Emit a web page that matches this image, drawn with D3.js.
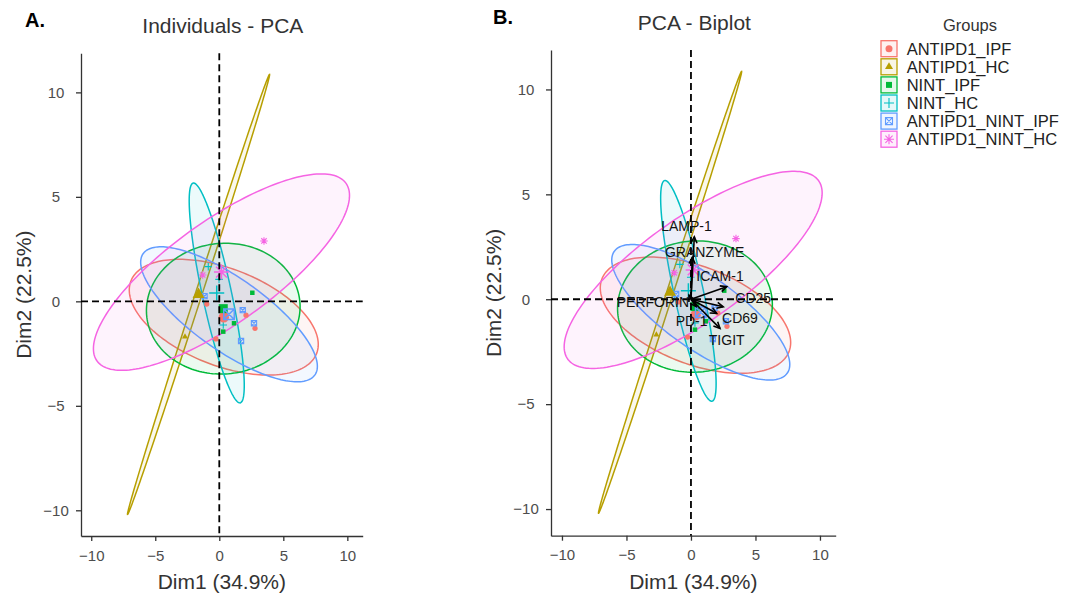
<!DOCTYPE html>
<html>
<head>
<meta charset="utf-8">
<script src="https://cdn.jsdelivr.net/npm/d3@7"></script>
<style>
body { margin: 0; background: #fff; }
text { font-family: "Liberation Sans", Arial, sans-serif; }
</style>
</head>
<body>
<div id="chart"></div>
<script>
var groups = ["ANTIPD1_IPF", "ANTIPD1_HC", "NINT_IPF", "NINT_HC", "ANTIPD1_NINT_IPF", "ANTIPD1_NINT_HC"];
var colors = ["#F8766D", "#B79F00", "#00BA38", "#00BFC4", "#619CFF", "#F564E3"];
var shapes = ["circle", "triangle", "square", "plus", "boxcross", "asterisk"];

// individuals (group index, Dim1, Dim2)
var indGroup = [0, 0, 0, 0, 1, 2, 2, 2, 3, 3, 3, 4, 4, 4, 4, 5, 5];
var indDim1 = [-0.98, 2.09, 2.79, -0.26, -2.68, 2.58, 1.15, 0.31, -0.86, -0.02, 0.31, 1.83, 2.71, 1.70, -1.15, 3.49, -1.30];
var indDim2 = [-0.13, -0.66, -1.29, -1.80, -1.69, 0.41, -1.05, -1.45, 1.66, 1.05, -1.13, -0.42, -1.05, -1.90, 0.25, 2.89, 1.26];

// group means
var meanDim1 = [0.35, -1.62, 0.31, -0.20, 0.76, 0.17];
var meanDim2 = [-0.76, 0.33, -0.35, 0.40, -0.62, 1.40];

// ellipses: half extent on Dim1, half extent on Dim2, correlation
var ellDim1 = [7.38, 5.55, 6.0, 2.15, 6.9, 10.0];
var ellDim2 = [2.77, 10.53, 3.13, 5.26, 3.23, 4.7];
var ellCor = [-0.47, 0.9988, 0.03, -0.84, -0.77, 0.78];

// variables (biplot arrows) and where their labels sit
var variables = ["LAMP-1", "GRANZYME", "ICAM-1", "CD25", "CD69", "TIGIT", "PD-1", "PERFORIN"];
var varDim1 = [0.26, 0.10, 2.77, 2.50, 1.99, 2.25, 0.40, -0.15];
var varDim2 = [2.98, 2.00, 0.60, -0.36, -0.67, -1.39, -0.35, 0.20];
var labDim1 = [-0.35, 1.06, 2.25, 4.83, 3.80, 2.77, 0.05, -2.95];
var labDim2 = [3.49, 2.25, 1.11, 0.04, -0.87, -1.94, -1.02, -0.12];

var xTicks = [-10, -5, 0, 5, 10];
var yTicks = [-10, -5, 0, 5, 10];

var w = 1077, h = 596;
var svg = d3.select("#chart").append("svg")
    .attr("width", w)
    .attr("height", h);

var baseSize = { circle: 3.5, triangle: 4, square: 3, plus: 5, boxcross: 3.5, asterisk: 5 };

function shapeD(shape, s) {
    if (shape == "circle")
        return "M" + (-s) + ",0A" + s + "," + s + " 0 1,1 " + s + ",0A" + s + "," + s + " 0 1,1 " + (-s) + ",0Z";
    if (shape == "triangle")
        return "M0," + (-1.15 * s) + "L" + s + "," + (0.58 * s) + "L" + (-s) + "," + (0.58 * s) + "Z";
    if (shape == "square")
        return "M" + (-s) + "," + (-s) + "H" + s + "V" + s + "H" + (-s) + "Z";
    if (shape == "plus")
        return "M" + (-s) + ",0H" + s + "M0," + (-s) + "V" + s;
    if (shape == "boxcross")
        return "M" + (-s) + "," + (-s) + "H" + s + "V" + s + "H" + (-s) + "Z" +
            "M" + (-s) + "," + (-s) + "L" + s + "," + s + "M" + s + "," + (-s) + "L" + (-s) + "," + s;
    var d = s * 0.72;
    return "M" + (-s) + ",0H" + s + "M0," + (-s) + "V" + s +
        "M" + (-d) + "," + (-d) + "L" + d + "," + d + "M" + d + "," + (-d) + "L" + (-d) + "," + d;
}

function marker(sel, k, px, py, mult) {
    var shape = shapes[k];
    var filled = shape == "circle" || shape == "triangle" || shape == "square";
    sel.append("path")
        .attr("transform", "translate(" + px + "," + py + ")")
        .attr("d", shapeD(shape, baseSize[shape] * mult))
        .style("fill", filled ? colors[k] : "none")
        .style("stroke", filled ? "none" : colors[k])
        .style("stroke-width", mult > 1 ? 1.5 : 1.1);
}

function drawPanel(p) {
    var xScale = d3.scaleLinear().domain(p.xDomain).range([p.left, p.right]);
    var yScale = d3.scaleLinear().domain(p.yDomain).range([p.bottom, p.top]);
    var g = svg.append("g");

    // concentration ellipses
    var theta = d3.range(0, 2 * Math.PI, Math.PI / 90);
    var ellLine = d3.line()
        .x(function (d) { return xScale(d[0]); })
        .y(function (d) { return yScale(d[1]); })
        .curve(d3.curveLinearClosed);
    groups.forEach(function (grp, i) {
        var k = Math.sqrt(1 - ellCor[i] * ellCor[i]);
        var pts = theta.map(function (t) {
            return [meanDim1[i] + ellDim1[i] * Math.cos(t),
                meanDim2[i] + ellDim2[i] * (ellCor[i] * Math.cos(t) + k * Math.sin(t))];
        });
        g.append("path")
            .attr("d", ellLine(pts))
            .style("fill", colors[i])
            .style("fill-opacity", 0.075)
            .style("stroke", colors[i])
            .style("stroke-width", 1.5);
    });

    // axes
    var xAxis = g.append("g")
        .attr("transform", "translate(0," + p.bottom + ")")
        .call(d3.axisBottom(xScale).tickValues(xTicks).tickSize(5).tickSizeOuter(0).tickPadding(9));
    var yAxis = g.append("g")
        .attr("transform", "translate(" + p.left + ",0)")
        .call(d3.axisLeft(yScale).tickValues(yTicks).tickSize(5).tickSizeOuter(0));
    [xAxis, yAxis].forEach(function (a) {
        a.select(".domain").style("stroke", "#333").style("stroke-width", 1.3);
        a.selectAll(".tick line").style("stroke", "#333").style("stroke-width", 1.3);
        a.selectAll(".tick text")
            .style("font-family", "Liberation Sans, Arial, sans-serif")
            .style("font-size", "15px")
            .style("fill", "#4d4d4d");
    });
    yAxis.selectAll(".tick text").attr("x", -25).style("text-anchor", "middle");

    // individual points
    indDim1.forEach(function (v, i) {
        marker(g, indGroup[i], xScale(v), yScale(indDim2[i]), 0.75);
    });
    // group means
    groups.forEach(function (grp, i) {
        marker(g, i, xScale(meanDim1[i]), yScale(meanDim2[i]), 1.5);
    });

    // dashed zero lines
    g.append("line")
        .attr("x1", xScale(0)).attr("x2", xScale(0))
        .attr("y1", p.top).attr("y2", p.bottom)
        .style("stroke", "black").style("stroke-width", 1.8).style("stroke-dasharray", "7,4");
    g.append("line")
        .attr("x1", p.left).attr("x2", p.right)
        .attr("y1", yScale(0)).attr("y2", yScale(0))
        .style("stroke", "black").style("stroke-width", 1.8).style("stroke-dasharray", "7,4");

    if (p.biplot) {
        var ox = xScale(0), oy = yScale(0);
        variables.forEach(function (name, i) {
            var tx = xScale(varDim1[i]), ty = yScale(varDim2[i]);
            var ang = Math.atan2(ty - oy, tx - ox);
            var hl = 7, ha = Math.PI / 7;
            g.append("line")
                .attr("x1", ox).attr("y1", oy).attr("x2", tx).attr("y2", ty)
                .style("stroke", "black").style("stroke-width", 1.6);
            g.append("path")
                .attr("d", "M" + (tx - hl * Math.cos(ang - ha)) + "," + (ty - hl * Math.sin(ang - ha)) +
                    "L" + tx + "," + ty +
                    "L" + (tx - hl * Math.cos(ang + ha)) + "," + (ty - hl * Math.sin(ang + ha)))
                .style("fill", "none").style("stroke", "black").style("stroke-width", 1.6);
        });
        g.selectAll(".varlabel")
            .data(variables)
            .enter()
            .append("text")
            .attr("class", "varlabel")
            .attr("x", function (d, i) { return xScale(labDim1[i]); })
            .attr("y", function (d, i) { return yScale(labDim2[i]); })
            .attr("dy", "0.36em")
            .style("text-anchor", "middle")
            .style("font-size", "14px")
            .style("fill", "#111")
            .text(function (d) { return d; });
    }

    // titles
    g.append("text")
        .attr("x", (p.left + p.right) / 2 + 1)
        .attr("y", p.titleY)
        .style("text-anchor", "middle")
        .style("font-size", "21px")
        .style("fill", "#333")
        .text(p.title);
    g.append("text")
        .attr("x", p.letterX)
        .attr("y", p.letterY)
        .style("font-size", "20px")
        .style("font-weight", "bold")
        .style("fill", "black")
        .text(p.letter);
    g.append("text")
        .attr("x", (p.left + p.right) / 2)
        .attr("y", 589)
        .style("text-anchor", "middle")
        .style("font-size", "21px")
        .style("fill", "#333")
        .text("Dim1 (34.9%)");
    g.append("text")
        .attr("transform", "translate(" + (p.left - 50) + "," + ((p.top + p.bottom) / 2) + ") rotate(-90)")
        .style("text-anchor", "middle")
        .style("font-size", "21px")
        .style("fill", "#333")
        .text("Dim2 (22.5%)");
}

drawPanel({
    left: 81, right: 362.7, top: 53.3, bottom: 536,
    xDomain: [-10.8, 11.2], yDomain: [-11.23, 11.87],
    title: "Individuals - PCA", titleY: 33, letter: "A.", letterX: 25, letterY: 27,
    biplot: false
});
drawPanel({
    left: 551, right: 835.7, top: 50, bottom: 535.7,
    xDomain: [-10.85, 11.22], yDomain: [-11.27, 11.88],
    title: "PCA - Biplot", titleY: 29.5, letter: "B.", letterX: 493, letterY: 23.5,
    biplot: true
});

// legend
var legend = svg.append("g");
legend.append("text")
    .attr("x", 970)
    .attr("y", 30.5)
    .style("text-anchor", "middle")
    .style("font-size", "16.5px")
    .style("fill", "#333")
    .text("Groups");
groups.forEach(function (grp, i) {
    var top = 40.7 + i * 18.1;
    legend.append("rect")
        .attr("x", 881).attr("y", top)
        .attr("width", 16).attr("height", 16)
        .style("fill", colors[i]).style("fill-opacity", 0.1)
        .style("stroke", colors[i]).style("stroke-width", 1.3);
    marker(legend, i, 889, top + 8, 1);
    legend.append("text")
        .attr("x", 906.7)
        .attr("y", top + 8)
        .attr("dy", "0.36em")
        .style("font-size", "16.5px")
        .style("fill", "#222")
        .text(grp);
});
</script>
</body>
</html>
